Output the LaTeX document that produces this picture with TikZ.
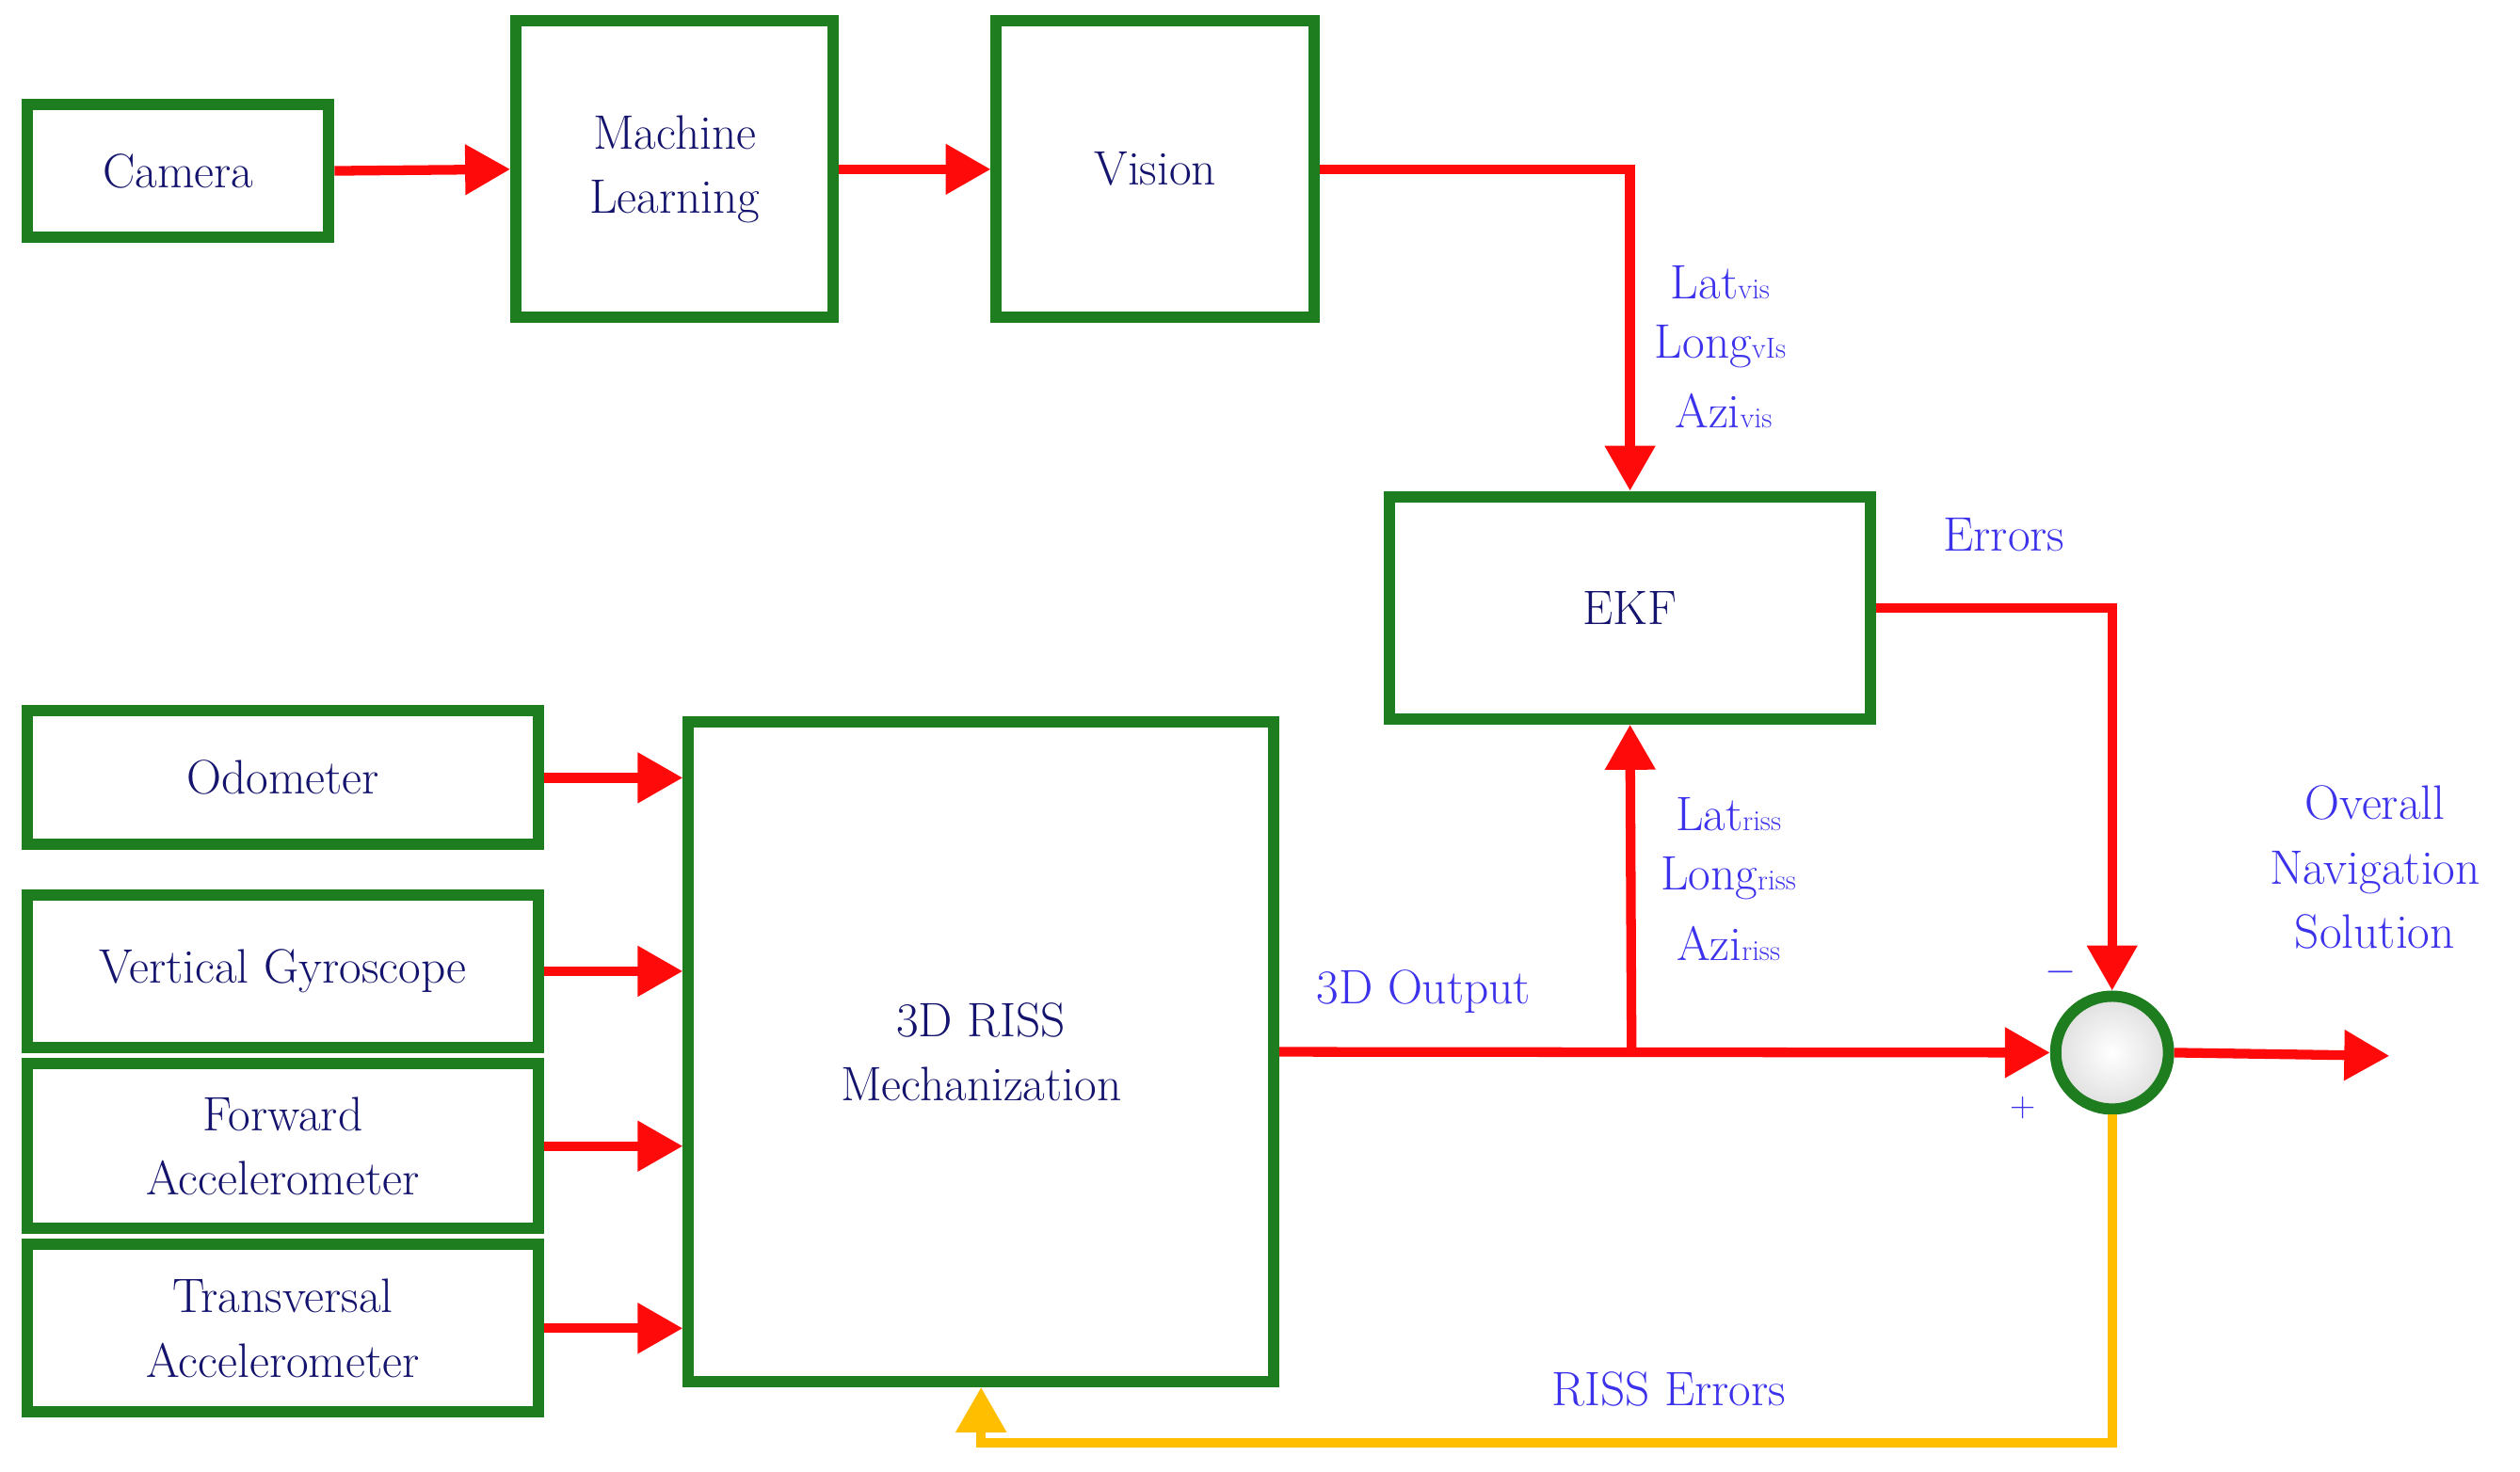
\documentclass[tikz,border=0pt]{standalone}
\usetikzlibrary{arrows.meta}
\definecolor{gr}{RGB}{30,125,30}
\definecolor{tx}{RGB}{20,20,110}
\definecolor{lb}{RGB}{60,50,235}
\definecolor{rd}{RGB}{255,10,10}
\definecolor{yl}{RGB}{255,190,0}
\begin{document}
\begin{tikzpicture}[x=1pt,y=-1pt,
 box/.style={draw=gr,line width=7pt,inner sep=0pt,text=tx,align=center,font=\fontsize{30}{40}\selectfont},
 ar/.style={draw=rd,line width=6pt,-{Triangle[length=28pt,width=30pt]}},
 ln/.style={draw=rd,line width=6pt},
 lab/.style={text=lb,align=center,font=\fontsize{30}{40}\selectfont},
 sub/.style={}]
\useasboundingbox (0,0) rectangle (1563,913);
\newcommand{\sbx}[1]{{\fontsize{18}{20}\selectfont #1}}
\node[box,minimum width=187pt,minimum height=82pt] (cam) at (110.5,106) {Camera};
\node[box,minimum width=197pt,minimum height=184pt] (ml) at (418.5,105) {Machine\\Learning};
\node[box,minimum width=197pt,minimum height=184pt] (vis) at (716.5,105) {Vision};
\node[box,minimum width=298pt,minimum height=138pt] (ekf) at (1011,377) {EKF};
\node[box,minimum width=317pt,minimum height=83pt] (odo) at (175.5,482.5) {Odometer};
\node[box,minimum width=317pt,minimum height=95pt] (gyr) at (175.5,602.5) {Vertical Gyroscope};
\node[box,minimum width=317pt,minimum height=102pt] (fwd) at (175.5,711) {Forward\\Accelerometer};
\node[box,minimum width=317pt,minimum height=104pt] (trn) at (175.5,824) {Transversal\\Accelerometer};
\node[box,minimum width=363pt,minimum height=409pt] (riss) at (608.5,652.5) {3D RISS\\Mechanization};
\node[draw=gr,line width=7pt,circle,minimum size=70pt,inner sep=0pt,inner color=white,outer color=gray!25] (sum) at (1310,653) {};
\coordinate (out) at (1482,655);
\coordinate (br) at (1012,653);
\draw[ar] (cam.east) -- (ml.west);
\draw[ar] (ml.east) -- (vis.west);
\draw[ar] (vis.east) -| (ekf.north);
\draw[ar] (ekf.east) -| (sum.north);
\draw[ar] (riss.east) -- (sum.west);
\draw[ar] (br) -- (ekf.south);
\draw[ar] (sum.east) -- (out);
\draw[ar] (odo.east) -- (riss.west|-odo.east);
\draw[ar] (gyr.east) -- (riss.west|-gyr.east);
\draw[ar] (fwd.east) -- (riss.west|-fwd.east);
\draw[ar] (trn.east) -- (riss.west|-trn.east);
\draw[draw=yl,line width=6pt,-{Triangle[length=28pt,width=30pt]}] (sum.south) -- (1310,895) -| (riss.south);
\node[lab] (l1) at (1067,175) {Lat\sbx{vis}};
\node[lab] (l2) at (1067,215) {Long\sbx{vIs}};
\node[lab] (l3) at (1069,255) {Azi\sbx{vis}};
\node[lab] (l4) at (1072,505) {Lat\sbx{riss}};
\node[lab] (l5) at (1072,545) {Long\sbx{riss}};
\node[lab] (l6) at (1072,585) {Azi\sbx{riss}};
\node[lab] (err) at (1243,332) {Errors};
\node[lab] (o3d) at (883,615) {3D Output};
\node[lab] (ons) at (1473,538) {Overall\\Navigation\\Solution};
\node[lab] (mi) at (1278,603) {$-$};
\node[lab,font=\fontsize{22}{26}\selectfont] (pl) at (1255,687) {+};
\node[lab] (re) at (1035,862) {RISS Errors};
\end{tikzpicture}
\end{document}
